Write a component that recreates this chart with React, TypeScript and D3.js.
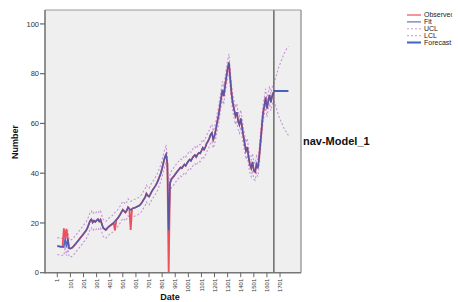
import React from "react";
import * as d3 from "d3";

// ---- data ----
const obsStart = 1;
const obsStep = 10;
// Fit series, one value every 10 observations (obs 1, 11, 21, ... 1651)
const fitValues: number[] = [
  10.7, 10.6, 10.5, 10.4, 10.4, 10.3, 13.8, 10.2, 13.6, 9.8,
  9.7, 9.9, 10.4, 11.0, 11.6, 12.3, 12.9, 13.6, 14.3, 14.9,
  15.6, 16.3, 17.0, 18.0, 19.4, 20.8, 21.4, 20.2, 20.9, 20.4,
  21.0, 21.5, 20.6, 21.3, 19.6, 18.0, 17.6, 17.2, 17.8, 18.4,
  18.8, 19.2, 19.6, 20.0, 20.8, 21.2, 21.8, 22.6, 23.4, 24.4,
  25.3, 24.8, 24.2, 25.0, 26.3, 25.7, 25.2, 25.6, 26.0, 26.1,
  26.3, 26.6, 26.8, 27.2, 27.8, 28.6, 29.5, 30.3, 31.8, 31.0,
  30.6, 31.5, 32.6, 33.4, 34.2, 35.0, 36.0, 37.2, 38.6, 40.0,
  42.0, 44.2, 46.3, 47.5, 44.0, 17.0, 36.0, 37.5, 38.2, 38.8,
  39.6, 40.3, 41.0, 41.6, 42.3, 42.0, 42.8, 43.5, 43.0, 44.0,
  44.8, 45.5, 45.0, 46.0, 46.8, 47.3, 46.5, 47.5, 48.2, 48.0,
  49.0, 50.2, 49.5, 50.5, 52.0, 52.8, 54.0, 55.5, 56.2, 53.5,
  55.0, 57.5, 60.5, 63.0, 66.5, 70.0, 73.5, 71.0, 75.0, 78.5,
  82.0, 84.5, 78.0, 72.0, 68.0, 65.5, 63.0, 64.5, 61.0, 59.5,
  62.0, 58.5, 55.0, 52.0, 49.0, 50.5, 46.5, 43.5, 42.0, 44.5,
  41.0, 40.5, 43.5, 42.0, 46.0, 52.0, 58.0, 64.0, 67.0, 70.5,
  66.0, 69.0, 71.5, 68.5, 71.0, 72.5,
];
// Observed differs from fit at these samples: [sample index, value]
const observedOutliers: [number, number][] = [
  [5, 17.8], [7, 17.6], [44, 17.0], [56, 17.2], [85, 0],
];
const ciHalfWidth = 3.4;

const forecastStartObs = 1654;
const forecastObs = [1651, 1671, 1691, 1711, 1731, 1751, 1765];
const forecastValues = [73, 73, 73, 73, 73, 73, 73];
const uclForecast = [75.9, 79.0, 82.5, 85.3, 88.0, 90.0, 91.0];
const lclForecast = [69.1, 66.5, 63.0, 60.5, 58.2, 56.3, 55.2];

const yTicks = [0, 20, 40, 60, 80, 100];
const xTickObs = [1, 101, 201, 301, 401, 501, 601, 701, 801, 901, 1001, 1101, 1201, 1301, 1401, 1501, 1601, 1701];

const legendItems = [
  { label: "Observed", color: "#f0737a", dash: "", width: 1.5 },
  { label: "Fit", color: "#6b78b8", dash: "", width: 1.2 },
  { label: "UCL", color: "#c79ad8", dash: "2,2", width: 1 },
  { label: "LCL", color: "#c79ad8", dash: "2,2", width: 1 },
  { label: "Forecast", color: "#4662c0", dash: "", width: 2 },
];

const W = 458;
const H = 302;
const plot = { left: 45, right: 301, top: 10, bottom: 272.7 };
const font = "'Liberation Sans', Arial, sans-serif";

export default function App() {
  const x = d3.scaleLinear().domain([-93, 1861]).range([plot.left, plot.right]);
  const y = d3.scaleLinear().domain([0, 105.6]).range([plot.bottom, plot.top]);

  const obsAt = (i: number) => obsStart + i * obsStep;
  const fitPts: [number, number][] = fitValues.map((v, i) => [obsAt(i), v]);
  const outMap = new Map(observedOutliers);
  const obsPts: [number, number][] = fitValues.map((v, i) => [obsAt(i), outMap.has(i) ? (outMap.get(i) as number) : v]);

  const histUcl: [number, number][] = fitValues.map((v, i) => [obsAt(i), v + ciHalfWidth]);
  const histLcl: [number, number][] = fitValues.map((v, i) => [obsAt(i), v - ciHalfWidth]);
  const fUcl: [number, number][] = forecastObs.map((o, i) => [o, uclForecast[i]]);
  const fLcl: [number, number][] = forecastObs.map((o, i) => [o, lclForecast[i]]);
  const fLine: [number, number][] = forecastObs.map((o, i) => [Math.max(o, forecastStartObs), forecastValues[i]]);

  const line = d3.line<[number, number]>().x((d) => x(d[0])).y((d) => y(d[1]));

  const bandColor = "#c493d8";

  return (
    <svg width={W} height={H} style={{ position: "absolute", left: 0, top: 0, background: "#fff" }} fontFamily={font}>
      <defs>
        <clipPath id="plotClip">
          <rect x={plot.left} y={plot.top} width={plot.right - plot.left} height={plot.bottom - plot.top} />
        </clipPath>
        <clipPath id="legClip">
          <rect x={400} y={0} width={52.2} height={60} />
        </clipPath>
      </defs>
      <rect x={plot.left} y={plot.top} width={plot.right - plot.left} height={plot.bottom - plot.top} fill="#efefef" />
      <g clipPath="url(#plotClip)">
        <path d={line([...histUcl, ...fUcl.slice(1)]) || ""} fill="none" stroke={bandColor} strokeWidth={1.1} strokeDasharray="2,2" />
        <path d={line([...histLcl, ...fLcl.slice(1)]) || ""} fill="none" stroke={bandColor} strokeWidth={1.1} strokeDasharray="2,2" />
        <path d={line(obsPts) || ""} fill="none" stroke="#ee4f5a" strokeWidth={1.8} />
        <path d={line(fitPts) || ""} fill="none" stroke="#4656b0" strokeWidth={1.5} strokeOpacity={0.9} />
        <path d={line(fLine) || ""} fill="none" stroke="#4662c0" strokeWidth={2} />
      </g>
      {/* forecast start line */}
      <line x1={x(forecastStartObs)} x2={x(forecastStartObs)} y1={plot.top} y2={plot.bottom} stroke="#555" strokeWidth={1.3} />
      {/* frame */}
      <line x1={plot.left} x2={plot.right} y1={plot.top} y2={plot.top} stroke="#999" strokeWidth={1.2} />
      <line x1={plot.right} x2={plot.right} y1={plot.top} y2={plot.bottom} stroke="#999" strokeWidth={1.4} />
      <line x1={plot.left} x2={plot.left} y1={plot.top} y2={plot.bottom + 0.8} stroke="#777" strokeWidth={1.6} />
      <line x1={plot.left} x2={plot.right} y1={plot.bottom} y2={plot.bottom} stroke="#777" strokeWidth={1.6} />
      {/* y axis */}
      {yTicks.map((t) => (
        <g key={t}>
          <line x1={plot.left - 5} x2={plot.left} y1={y(t)} y2={y(t)} stroke="#666" strokeWidth={1.2} />
          <text x={plot.left - 6} y={y(t)} dy="0.35em" textAnchor="end" fontSize={7.5} fill="#333">{t}</text>
        </g>
      ))}
      {/* x axis */}
      {xTickObs.map((t) => (
        <g key={t}>
          <line x1={x(t)} x2={x(t)} y1={plot.bottom} y2={plot.bottom + 4.5} stroke="#666" strokeWidth={1} />
          <text transform={`translate(${x(t)},${plot.bottom + 6}) rotate(-90)`} dy="0.35em" textAnchor="end" fontSize={6} fill="#333">{t}</text>
        </g>
      ))}
      <text x={170} y={300} textAnchor="middle" fontSize={9} fontWeight="bold" fill="#111">Date</text>
      <text transform={`translate(18,142) rotate(-90)`} textAnchor="middle" fontSize={9} fontWeight="bold" fill="#111">Number</text>
      <text x={303} y={145} fontSize={11} fontWeight="bold" fill="#111">nav-Model_1</text>
      {/* legend */}
      <g clipPath="url(#legClip)">
        {legendItems.map((it, i) => {
          const yy = 15 + i * 6.9;
          return (
            <g key={it.label}>
              <line x1={407} x2={421} y1={yy} y2={yy} stroke={it.color} strokeWidth={it.width} strokeDasharray={it.dash || undefined} />
              <text x={424} y={yy} dy="0.35em" fontSize={7} fill="#222">{it.label}</text>
            </g>
          );
        })}
      </g>
    </svg>
  );
}
